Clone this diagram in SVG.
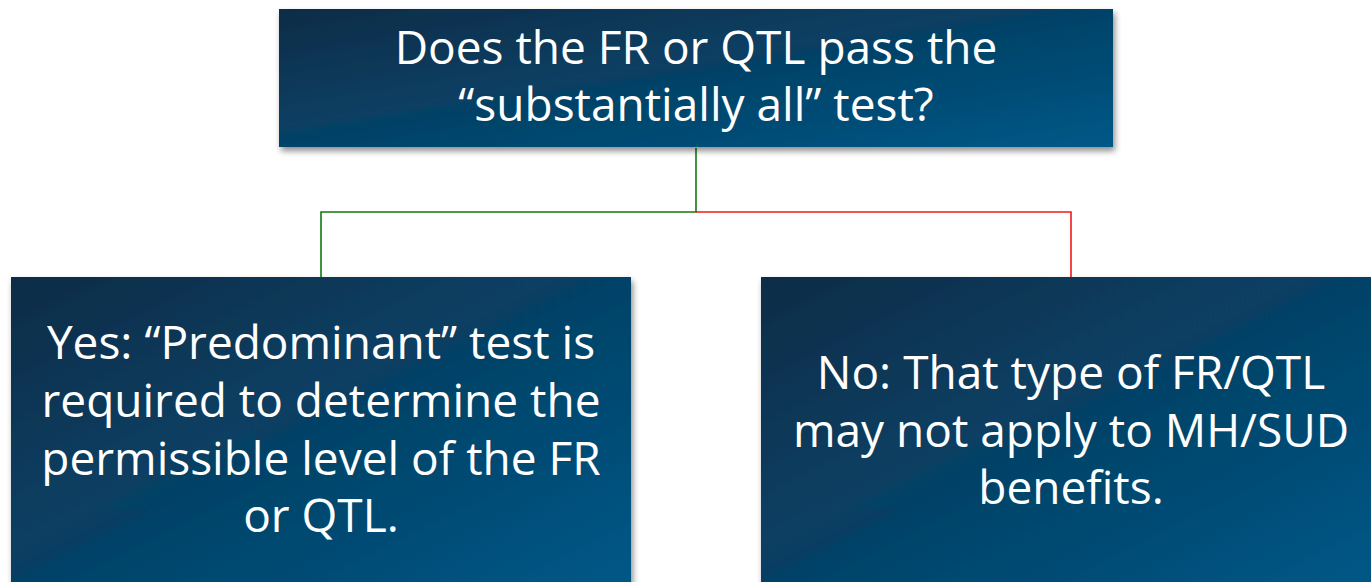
<svg xmlns="http://www.w3.org/2000/svg" width="1371" height="582" viewBox="0 0 1371 582">
<defs>
<linearGradient id="g" x1="0" y1="0" x2="1" y2="1">
<stop offset="0" stop-color="#0c2c47"/>
<stop offset="1" stop-color="#005887"/>
</linearGradient>
<filter id="sh" x="-5%" y="-5%" width="110%" height="120%">
<feGaussianBlur in="SourceAlpha" stdDeviation="3"/>
<feOffset dx="2" dy="4" result="b"/>
<feComponentTransfer><feFuncA type="linear" slope="0.45"/></feComponentTransfer>
<feMerge><feMergeNode/><feMergeNode in="SourceGraphic"/></feMerge>
</filter>
</defs>
<style>
.box{fill:url(#g);filter:url(#sh)}
.t{fill:#fff;font-family:"Open Sans","Liberation Sans",sans-serif;font-size:46px;text-anchor:middle}
.gl{stroke:#107a10;stroke-width:1.6;fill:none}
.rl{stroke:#f01a1a;stroke-width:1.6;fill:none}
</style>
<rect width="1371" height="582" fill="#fff"/>
<g id="connectors">
<path class="gl" d="M696,148 V212 H321 V277"/>
<path class="rl" d="M696,212 H1071 V277"/>
</g>
<g id="top">
<rect class="box" x="279" y="9" width="834" height="138"/>
<text class="t" x="696" y="64">Does the FR or QTL pass the</text>
<text class="t" x="696" y="121">“substantially all” test?</text>
</g>
<g id="yes">
<rect class="box" x="11" y="277" width="620" height="310"/>
<text class="t" x="321" y="359">Yes: “Predominant” test is</text>
<text class="t" x="321" y="417">required to determine the</text>
<text class="t" x="321" y="475">permissible level of the FR</text>
<text class="t" x="321" y="532">or QTL.</text>
</g>
<g id="no">
<rect class="box" x="761" y="277" width="615" height="310"/>
<text class="t" x="1071" y="389">No: That type of FR/QTL</text>
<text class="t" x="1071" y="447">may not apply to MH/SUD</text>
<text class="t" x="1071" y="504">benefits.</text>
</g>
</svg>
